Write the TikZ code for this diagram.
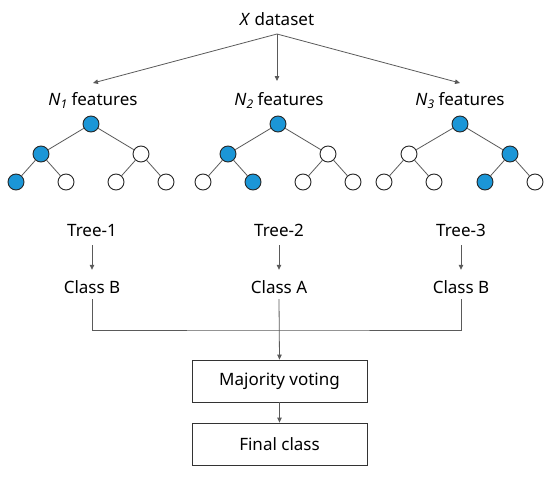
\documentclass[tikz,border=0pt]{standalone}
\usepackage{fontspec}
\setmainfont{Noto Sans}
\usetikzlibrary{arrows.meta}
\definecolor{nodeblue}{RGB}{27,150,215}
\definecolor{linegray}{RGB}{90,90,90}
\begin{document}
\begin{tikzpicture}[x=1pt,y=-1pt,
  every node/.style={font=\fontsize{17}{20}\selectfont},
  lbl/.style={inner sep=0pt, text height=12pt, text depth=0pt},
  tn/.style={circle, draw=black!85, line width=0.9pt, minimum size=16pt, inner sep=0pt, fill=white},
  bl/.style={tn, fill=nodeblue},
  tedge/.style={draw=linegray, line width=0.8pt},
  conn/.style={draw=linegray, line width=0.8pt},
  arr/.style={conn, -{Triangle[length=5pt,width=4.5pt]}},
  box/.style={draw=black!80, line width=0.8pt, minimum width=175pt, minimum height=42pt, inner sep=0pt}
]
\useasboundingbox (0,0) rectangle (550,479);

% top
\node[lbl] (xds) at (277,19) {\textit{X} dataset};
\node[lbl] (n1) at (93,99) {\textit{N}\raisebox{-0.35ex}{\fontsize{12}{13}\selectfont\textit{1}} features};
\node[lbl] (n2) at (279,99) {\textit{N}\raisebox{-0.35ex}{\fontsize{12}{13}\selectfont\textit{2}} features};
\node[lbl] (n3) at (460,99) {\textit{N}\raisebox{-0.35ex}{\fontsize{12}{13}\selectfont\textit{3}} features};
\coordinate (xo) at (277,34);
\draw[arr] (xo) -- (93,83);
\draw[arr] (xo) -- (277,81);
\draw[arr] (xo) -- (460,83);

% tree 1
\node[bl] (a0) at (91,124) {};
\node[bl] (a1) at (41,154) {};
\node[tn] (a2) at (141,154) {};
\node[bl] (a3) at (16,182) {};
\node[tn] (a4) at (66,182) {};
\node[tn] (a5) at (116,182) {};
\node[tn] (a6) at (166,182) {};
% tree 2
\node[bl] (b0) at (278,124) {};
\node[bl] (b1) at (228,154) {};
\node[tn] (b2) at (328,154) {};
\node[tn] (b3) at (203,182) {};
\node[bl] (b4) at (253,182) {};
\node[tn] (b5) at (303,182) {};
\node[tn] (b6) at (353,182) {};
% tree 3
\node[bl] (c0) at (460,124) {};
\node[tn] (c1) at (409,154) {};
\node[bl] (c2) at (510,154) {};
\node[tn] (c3) at (384,182) {};
\node[tn] (c4) at (434,182) {};
\node[bl] (c5) at (485,182) {};
\node[tn] (c6) at (535,182) {};
\foreach \t in {a,b,c}{
  \draw[tedge] (\t0) -- (\t1);
  \draw[tedge] (\t0) -- (\t2);
  \draw[tedge] (\t1) -- (\t3);
  \draw[tedge] (\t1) -- (\t4);
  \draw[tedge] (\t2) -- (\t5);
  \draw[tedge] (\t2) -- (\t6);
}

% tree labels and classes
\node[lbl] (t1) at (92,230) {Tree-1};
\node[lbl] (t2) at (279,230) {Tree-2};
\node[lbl] (t3) at (461,230) {Tree-3};
\node[lbl] (k1) at (92,287) {Class B};
\node[lbl] (k2) at (279,287) {Class A};
\node[lbl] (k3) at (461,287) {Class B};
\draw[arr] ([yshift=-9pt]t1.south) -- ([yshift=11pt]k1.north);
\draw[arr] ([yshift=-9pt]t2.south) -- ([yshift=11pt]k2.north);
\draw[arr] ([yshift=-9pt]t3.south) -- ([yshift=11pt]k3.north);

% boxes
\node[box] (mv) at (279.5,381) {Majority voting};
\node[box] (fc) at (279.5,444) {Final class};
\coordinate (bar) at (279.5,330);
\draw[conn] ([yshift=-6pt]k1.south) |- (bar) -| ([yshift=-6pt]k3.south);
\draw[arr] ([yshift=-6pt]k2.south) -- (mv.north);
\draw[arr] (mv.south) -- (fc.north);
\end{tikzpicture}
\end{document}
